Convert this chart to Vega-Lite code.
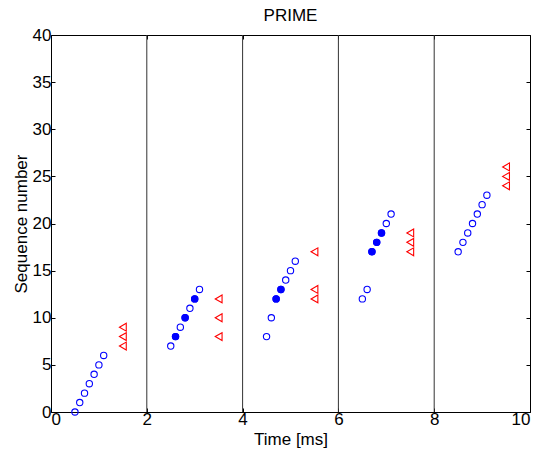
{
  "$schema": "https://vega.github.io/schema/vega-lite/v6.json",
  "width": 479,
  "height": 377,
  "autosize": {"type": "none"},
  "padding": {"left": 51, "top": 35, "right": 9, "bottom": 42},
  "background": "white",
  "config": {
    "font": "Liberation Sans",
    "view": {"stroke": "black", "strokeWidth": 1},
    "axis": {"grid": false, "domain": false, "tickColor": "black", "labelColor": "black", "titleColor": "black", "labelFontSize": 17, "titleFontSize": 17, "titleFontWeight": "normal", "tickSize": -4, "labelFont": "Liberation Sans", "titleFont": "Liberation Sans"},
    "title": {"fontSize": 17, "fontWeight": "normal", "font": "Liberation Sans", "color": "black"}
  },
  "title": {"text": "PRIME", "offset": 1},
  "datasets": {
    "pkts": [
      {"t": 0.5, "seq": 0, "kind": "tx", "marked": false},
      {"t": 0.6, "seq": 1, "kind": "tx", "marked": false},
      {"t": 0.7, "seq": 2, "kind": "tx", "marked": false},
      {"t": 0.8, "seq": 3, "kind": "tx", "marked": false},
      {"t": 0.9, "seq": 4, "kind": "tx", "marked": false},
      {"t": 1.0, "seq": 5, "kind": "tx", "marked": false},
      {"t": 1.1, "seq": 6, "kind": "tx", "marked": false},
      {"t": 1.5, "seq": 7, "kind": "ack", "marked": false},
      {"t": 1.5, "seq": 8, "kind": "ack", "marked": false},
      {"t": 1.5, "seq": 9, "kind": "ack", "marked": false},
      {"t": 2.5, "seq": 7, "kind": "tx", "marked": false},
      {"t": 2.6, "seq": 8, "kind": "tx", "marked": true},
      {"t": 2.7, "seq": 9, "kind": "tx", "marked": false},
      {"t": 2.8, "seq": 10, "kind": "tx", "marked": true},
      {"t": 2.9, "seq": 11, "kind": "tx", "marked": false},
      {"t": 3.0, "seq": 12, "kind": "tx", "marked": true},
      {"t": 3.1, "seq": 13, "kind": "tx", "marked": false},
      {"t": 3.5, "seq": 8, "kind": "ack", "marked": false},
      {"t": 3.5, "seq": 10, "kind": "ack", "marked": false},
      {"t": 3.5, "seq": 12, "kind": "ack", "marked": false},
      {"t": 4.5, "seq": 8, "kind": "tx", "marked": false},
      {"t": 4.6, "seq": 10, "kind": "tx", "marked": false},
      {"t": 4.7, "seq": 12, "kind": "tx", "marked": true},
      {"t": 4.8, "seq": 13, "kind": "tx", "marked": true},
      {"t": 4.9, "seq": 14, "kind": "tx", "marked": false},
      {"t": 5.0, "seq": 15, "kind": "tx", "marked": false},
      {"t": 5.1, "seq": 16, "kind": "tx", "marked": false},
      {"t": 5.5, "seq": 12, "kind": "ack", "marked": false},
      {"t": 5.5, "seq": 13, "kind": "ack", "marked": false},
      {"t": 5.5, "seq": 17, "kind": "ack", "marked": false},
      {"t": 6.5, "seq": 12, "kind": "tx", "marked": false},
      {"t": 6.6, "seq": 13, "kind": "tx", "marked": false},
      {"t": 6.7, "seq": 17, "kind": "tx", "marked": true},
      {"t": 6.8, "seq": 18, "kind": "tx", "marked": true},
      {"t": 6.9, "seq": 19, "kind": "tx", "marked": true},
      {"t": 7.0, "seq": 20, "kind": "tx", "marked": false},
      {"t": 7.1, "seq": 21, "kind": "tx", "marked": false},
      {"t": 7.5, "seq": 17, "kind": "ack", "marked": false},
      {"t": 7.5, "seq": 18, "kind": "ack", "marked": false},
      {"t": 7.5, "seq": 19, "kind": "ack", "marked": false},
      {"t": 8.5, "seq": 17, "kind": "tx", "marked": false},
      {"t": 8.6, "seq": 18, "kind": "tx", "marked": false},
      {"t": 8.7, "seq": 19, "kind": "tx", "marked": false},
      {"t": 8.8, "seq": 20, "kind": "tx", "marked": false},
      {"t": 8.9, "seq": 21, "kind": "tx", "marked": false},
      {"t": 9.0, "seq": 22, "kind": "tx", "marked": false},
      {"t": 9.1, "seq": 23, "kind": "tx", "marked": false},
      {"t": 9.5, "seq": 24, "kind": "ack", "marked": false},
      {"t": 9.5, "seq": 25, "kind": "ack", "marked": false},
      {"t": 9.5, "seq": 26, "kind": "ack", "marked": false}
    ],
    "bounds": [{"t": 2}, {"t": 4}, {"t": 6}, {"t": 8}]
  },
  "resolve": {"axis": {"x": "independent", "y": "independent"}},
  "layer": [
    {
      "data": {"name": "bounds"},
      "mark": {"type": "rule", "color": "#333333", "strokeWidth": 1},
      "encoding": {
        "x": {"field": "t", "type": "quantitative", "scale": {"domain": [0, 10], "nice": false},
              "axis": {"orient": "bottom", "values": [0, 2, 4, 6, 8, 10], "title": "Time [ms]", "labelPadding": 3, "titlePadding": 4}},
        "y": {"datum": 0, "type": "quantitative", "scale": {"domain": [0, 40], "nice": false},
              "axis": {"orient": "left", "values": [0, 5, 10, 15, 20, 25, 30, 35, 40], "title": "Sequence number", "labelPadding": 4, "titlePadding": 2}},
        "y2": {"datum": 40}
      }
    },
    {
      "data": {"name": "pkts"},
      "transform": [{"filter": "datum.kind === 'tx'"}],
      "mark": {"type": "point", "shape": "circle", "filled": false, "color": "#0000ff", "size": 40, "strokeWidth": 1.1, "opacity": 1},
      "encoding": {
        "x": {"field": "t", "type": "quantitative", "axis": {"orient": "top", "labels": false, "title": null, "values": [0, 2, 4, 6, 8, 10]}},
        "y": {"field": "seq", "type": "quantitative", "axis": {"orient": "right", "labels": false, "title": null, "values": [0, 5, 10, 15, 20, 25, 30, 35, 40]}}
      }
    },
    {
      "data": {"name": "pkts"},
      "transform": [{"filter": "datum.marked"}],
      "mark": {"type": "point", "shape": "circle", "filled": true, "color": "#0000ff", "stroke": "#0000ff", "strokeWidth": 1.1, "size": 40, "opacity": 1},
      "encoding": {
        "x": {"field": "t", "type": "quantitative", "axis": null},
        "y": {"field": "seq", "type": "quantitative", "axis": null}
      }
    },
    {
      "data": {"name": "pkts"},
      "transform": [{"filter": "datum.kind === 'ack'"}],
      "mark": {"type": "point", "shape": "triangle-left", "filled": false, "color": "#ff0000", "size": 62, "strokeWidth": 1.1, "opacity": 1},
      "encoding": {
        "x": {"field": "t", "type": "quantitative", "axis": null},
        "y": {"field": "seq", "type": "quantitative", "axis": null}
      }
    }
  ]
}
